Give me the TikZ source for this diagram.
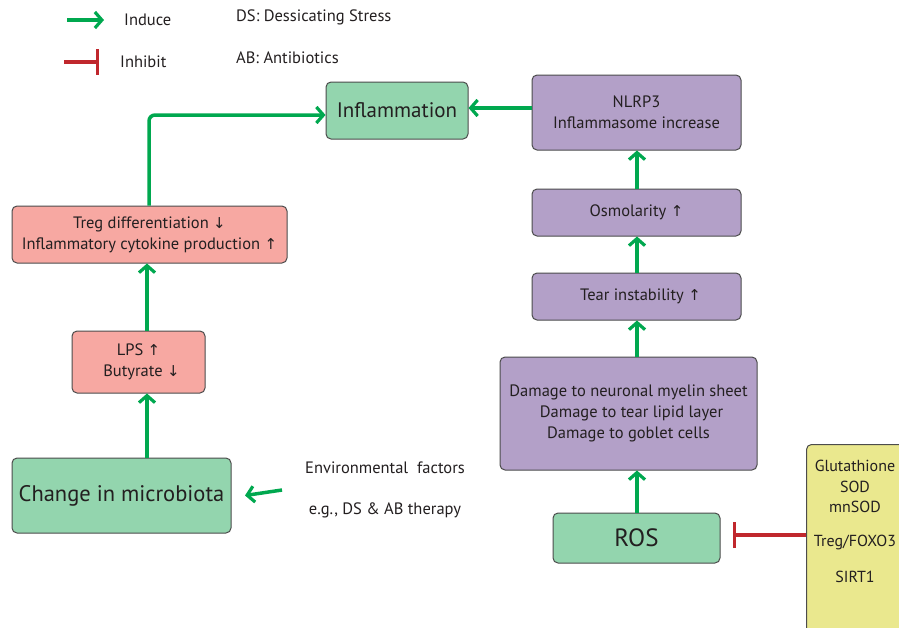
\documentclass[tikz,border=0pt]{standalone}
\usepackage{fontspec}
\setmainfont{PT Sans}
\newfontfamily\arrfont{DejaVu Sans}
\usetikzlibrary{arrows.meta}
\definecolor{gbox}{HTML}{93D5AE}
\definecolor{pbox}{HTML}{B3A0C8}
\definecolor{rbox}{HTML}{F7A8A2}
\definecolor{ybox}{HTML}{EAE88E}
\definecolor{garr}{HTML}{00A84F}
\definecolor{rarr}{HTML}{C0272D}
\definecolor{txt}{HTML}{231F20}
\newcommand{\up}{{\arrfont\fontsize{15}{15}\selectfont↑}}
\newcommand{\dn}{{\arrfont\fontsize{15}{15}\selectfont↓}}
\tikzset{
  box/.style={draw=black!70, line width=1pt, rounded corners=5pt, text=txt, align=center, inner sep=0pt, font=\fontsize{16.5}{21}\selectfont},
  gb/.style={box, fill=gbox},
  pb/.style={box, fill=pbox},
  rb/.style={box, fill=rbox},
  yb/.style={box, fill=ybox},
  ind/.style={draw=garr, line width=3.5pt, -{Straight Barb[length=7pt,width=16pt,line width=3.2pt]}},
  inh/.style={draw=rarr, line width=3.5pt, -{Bar[width=26pt,line width=3.5pt]}},
  lbl/.style={text=txt, font=\fontsize{16.5}{21}\selectfont, inner sep=0pt}
}
\begin{document}
\begin{tikzpicture}[x=1pt,y=-1pt]
\clip (0,0) rectangle (899,627);
\fill[white] (0,0) rectangle (899,627);
% legend
\coordinate (li1) at (67,20); \coordinate (li2) at (104,20);
\draw[ind] (li1) -- (li2);
\node[lbl, anchor=west] (lind) at (124,20) {Induce};
\coordinate (lh1) at (64,62); \coordinate (lh2) at (99,62);
\draw[inh] (lh1) -- (lh2);
\node[lbl, anchor=west] (linh) at (120,62) {Inhibit};
\node[lbl, anchor=west] (lds) at (236,17) {DS: Dessicating Stress};
\node[lbl, anchor=west] (lab) at (236,58) {AB: Antibiotics};
% boxes
\node[gb, minimum width=142pt, minimum height=57pt, font=\fontsize{21}{24}\selectfont] (infl) at (397,110.5) {Inflammation};
\node[pb, minimum width=209pt, minimum height=75pt] (nlrp) at (636.5,112.5) {NLRP3\\Inflammasome increase};
\node[pb, minimum width=209pt, minimum height=47pt] (osm) at (636.5,212.5) {Osmolarity \up};
\node[pb, minimum width=209pt, minimum height=47pt] (tear) at (636.5,296.5) {\hspace*{8pt}Tear instability \up};
\node[pb, minimum width=257pt, minimum height=113pt] (dmg) at (628.5,413.5) {Damage to neuronal myelin sheet\\\hspace*{6pt}Damage to tear lipid layer\\Damage to goblet cells};
\node[gb, minimum width=167pt, minimum height=50pt, font=\fontsize{25}{28}\selectfont] (ros) at (636.5,538) {ROS};
\node[yb, minimum width=106pt, minimum height=200pt, anchor=north west] (anti) at (806,444) {};
\node[lbl, align=center, font=\fontsize{16}{20.5}\selectfont, anchor=north] (antitxt) at (855,460) {Glutathione\\SOD\\mnSOD\\[13pt]Treg/FOXO3\\[16pt]SIRT1};
\node[rb, minimum width=275pt, minimum height=57pt] (treg) at (149.5,234.5) {Treg differentiation \dn\\Inflammatory cytokine production \up};
\node[rb, minimum width=133pt, minimum height=62pt] (lps) at (138.5,362) {LPS \up\\\hspace*{6pt}Butyrate \dn};
\node[gb, minimum width=219pt, minimum height=75pt, font=\fontsize{22.5}{26}\selectfont] (micro) at (121.5,495.5) {Change in microbiota};
\node[lbl, anchor=center] (env1) at (385,468) {Environmental\ \ factors};
\node[lbl, anchor=center] (env2) at (385,510) {e.g., DS \& AB therapy};
% connectors
\coordinate (envs) at (282,490);
\draw[ind] (envs) -- (micro.east -| 245,0);
\draw[ind] (micro.north -| 147,0) -- (lps.south -| 147,0);
\draw[ind] (lps.north -| 147,0) -- (treg.south -| 147,0);
\draw[ind, rounded corners=6pt] (treg.north -| 149,0) -- (149,115) -- (infl.west |- 0,115);
\draw[ind] (nlrp.west |- 0,108) -- (infl.east |- 0,108);
\draw[ind] (osm.north -| 637,0) -- (nlrp.south -| 637,0);
\draw[ind] (tear.north -| 637,0) -- (osm.south -| 637,0);
\draw[ind] (dmg.north -| 637,0) -- (tear.south -| 637,0);
\draw[ind] (ros.north -| 637,0) -- (dmg.south -| 637,0);
\draw[inh] (anti.west |- 0,535) -- ([xshift=12pt]ros.east |- 0,535);
\end{tikzpicture}
\end{document}
